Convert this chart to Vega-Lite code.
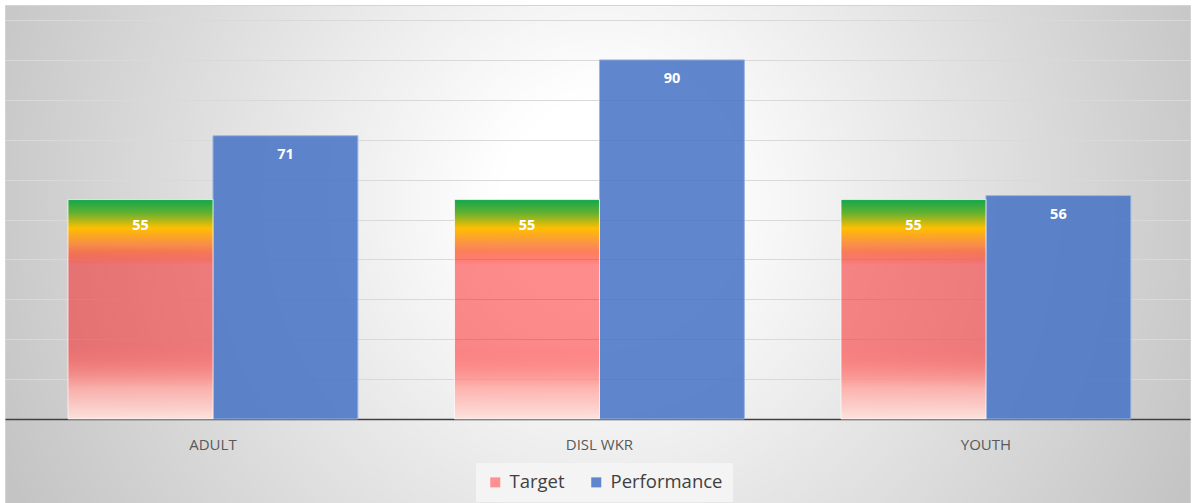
{
  "$schema": "https://vega.github.io/schema/vega-lite/v6.json",
  "width": 1185,
  "height": 498,
  "autosize": {"type": "none"},
  "padding": {"left": 5, "top": 5, "right": 4, "bottom": 0},
  "background": "#ffffff",
  "view": {
    "fill": {
      "gradient": "radial",
      "x1": 0.502, "y1": 0.454, "r1": 0,
      "x2": 0.502, "y2": 0.454, "r2": 0.55,
      "stops": [
        {"offset": 0, "color": "#ffffff"},
        {"offset": 0.15, "color": "#ffffff"},
        {"offset": 1, "color": "#c4c4c4"}
      ]
    },
    "stroke": "#d4d4d4",
    "strokeWidth": 1
  },
  "data": {
    "values": [
      {"group": "ADULT", "series": "Target", "value": 55},
      {"group": "ADULT", "series": "Performance", "value": 71},
      {"group": "DISL WKR", "series": "Target", "value": 55},
      {"group": "DISL WKR", "series": "Performance", "value": 90},
      {"group": "YOUTH", "series": "Target", "value": 55},
      {"group": "YOUTH", "series": "Performance", "value": 56}
    ]
  },
  "encoding": {
    "x": {
      "field": "group",
      "type": "nominal",
      "sort": ["ADULT", "DISL WKR", "YOUTH"],
      "scale": {"paddingInner": 0.25, "paddingOuter": 0.158, "align": 0.516},
      "axis": {
        "title": null,
        "orient": "bottom",
        "offset": -84,
        "domain": true,
        "domainColor": "#404040",
        "domainWidth": 1.5,
        "ticks": false,
        "labelAngle": 0,
        "labelPadding": 18,
        "labelFont": "Open Sans",
        "labelFontSize": 15,
        "labelColor": "#595959",
        "grid": false
      }
    },
    "xOffset": {
      "field": "series",
      "type": "nominal",
      "sort": ["Target", "Performance"],
      "scale": {"domain": ["Target", "Performance"], "paddingInner": 0, "paddingOuter": 0}
    },
    "y": {
      "field": "value",
      "type": "quantitative",
      "scale": {"domain": [-21.05, 103.76], "nice": false, "zero": false},
      "axis": {
        "title": null,
        "labels": false,
        "ticks": false,
        "domain": false,
        "grid": true,
        "gridColor": "#d9d9d9",
        "gridWidth": 1,
        "values": [10, 20, 30, 40, 50, 60, 70, 80, 90, 100]
      }
    }
  },
  "layer": [
    {
      "transform": [{"filter": "datum.series === 'Performance'"}],
      "mark": {"type": "bar", "stroke": "#9fb6e2", "strokeWidth": 1},
      "encoding": {
        "y2": {"datum": 0},
        "color": {
          "field": "series",
          "type": "nominal",
          "scale": {
            "domain": ["Target", "Performance"],
            "range": ["#ff9090", "rgba(68,114,196,0.85)"]
          },
          "legend": {
            "title": null,
            "orient": "none",
            "legendX": 471,
            "legendY": 458,
            "direction": "horizontal",
            "fillColor": "#f4f4f4",
            "padding": 10,
            "symbolType": "square",
            "symbolSize": 100,
            "symbolStrokeWidth": 0,
            "labelFont": "Open Sans",
            "labelFontSize": 18.5,
            "labelColor": "#404040",
            "labelOffset": 5,
            "columnPadding": 22
          }
        }
      }
    },
    {
      "transform": [{"filter": "datum.series === 'Target'"}],
      "mark": {
        "type": "bar",
        "stroke": "#ffffff",
        "strokeOpacity": 0.7,
        "strokeWidth": 1,
        "color": {
          "gradient": "linear",
          "x1": 0, "y1": 0, "x2": 0, "y2": 1,
          "stops": [
            {"offset": 0, "color": "#10a84c"},
            {"offset": 0.06, "color": "#62b030"},
            {"offset": 0.13, "color": "#ffbf00"},
            {"offset": 0.21, "color": "rgba(250,130,60,0.9)"},
            {"offset": 0.3, "color": "rgba(255,0,0,0.45)"},
            {"offset": 0.66, "color": "rgba(255,0,0,0.45)"},
            {"offset": 0.86, "color": "rgba(255,170,165,0.85)"},
            {"offset": 1, "color": "rgba(253,226,222,0.97)"}
          ]
        }
      },
      "encoding": {"y2": {"datum": 0}}
    },
    {
      "transform": [{"filter": "datum.series === 'Performance'"}],
      "mark": {"type": "text", "dy": 19, "color": "#ffffff", "font": "Open Sans", "fontSize": 14.5, "fontWeight": "bold", "baseline": "middle"},
      "encoding": {"text": {"field": "value", "type": "quantitative"}}
    },
    {
      "transform": [{"filter": "datum.series === 'Target'"}],
      "mark": {"type": "text", "dy": 26, "color": "#ffffff", "font": "Open Sans", "fontSize": 14.5, "fontWeight": "bold", "baseline": "middle"},
      "encoding": {"text": {"field": "value", "type": "quantitative"}}
    }
  ]
}
